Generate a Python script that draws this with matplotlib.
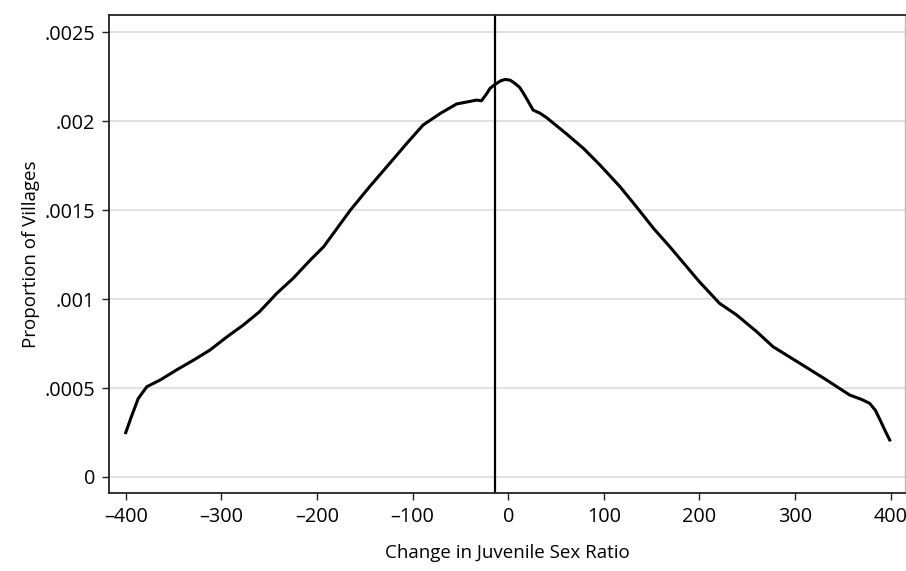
import matplotlib
matplotlib.use("Agg")
import matplotlib.pyplot as plt

plt.rcParams['font.family'] = ['Open Sans', 'DejaVu Sans']

x_vals = [-400, -394, -387, -378, -364, -347, -329, -312, -294, -277, -260, -242, -225,
          -207, -193, -165, -145, -124, -106, -89, -71, -54, -33, -28, -23, -19, -14,
          -8, -3, 2, 7, 12, 16, 21, 26, 33, 40, 61, 79, 96, 117, 134, 152, 169, 194, 200,
          221, 239, 260, 277, 305, 333, 357, 370, 378, 384, 389, 394, 399]
density = [0.000249, 0.00034, 0.000440, 0.000507, 0.000545, 0.000601, 0.000657, 0.000713,
           0.000788, 0.000854, 0.000929, 0.001032, 0.001116, 0.001219, 0.001294,
           0.0015, 0.001631, 0.001762, 0.001875, 0.001978, 0.002043, 0.002096,
           0.002118, 0.002114, 0.002150, 0.002184, 0.002205, 0.002226, 0.002234,
           0.002230, 0.002212, 0.002189, 0.002156, 0.002110,
           0.002062, 0.002045, 0.002020, 0.001928, 0.001845, 0.001753, 0.001631, 0.001519,
           0.001397, 0.001294, 0.001135, 0.001097, 0.000976, 0.00091, 0.000816,
           0.000732, 0.000639, 0.000545, 0.000461, 0.000435, 0.000414, 0.000375,
           0.00032, 0.000262, 0.000208]
cutoff = -14
x_ticks = [-400, -300, -200, -100, 0, 100, 200, 300, 400]
x_ticklabels = ['\u2013400', '\u2013300', '\u2013200', '\u2013100', '0', '100', '200', '300', '400']
y_ticks = [0, 0.0005, 0.001, 0.0015, 0.002, 0.0025]
y_ticklabels = ['0', '.0005', '.001', '.0015', '.002', '.0025']

fig = plt.figure(figsize=(9.06, 5.71), dpi=100)
ax = fig.add_axes([0.1203, 0.1366, 0.8786, 0.8371])

ax.plot(x_vals, density, color='black', lw=2.2, solid_joinstyle='round')
ax.axvline(cutoff, color='black', lw=1.6)

ax.set_xlim(-417.5, 415)
ax.set_ylim(-0.00009, 0.002596)
ax.set_xticks(x_ticks)
ax.set_xticklabels(x_ticklabels)
ax.set_yticks(y_ticks)
ax.set_yticklabels(y_ticklabels)
ax.yaxis.grid(True, color='#dddddd', lw=1.2)
ax.set_axisbelow(True)

for s in ['left', 'top', 'bottom']:
    ax.spines[s].set_color('#222222')
    ax.spines[s].set_linewidth(1.3)
ax.spines['right'].set_color('#bbbbbb')
ax.spines['right'].set_linewidth(1.0)

ax.tick_params(axis='both', direction='out', length=5, width=1, color='#222222',
               labelsize=14.3, pad=5)

ax.set_xlabel('Change in Juvenile Sex Ratio', fontsize=13.5, labelpad=12)
ax.set_ylabel('Proportion of Villages', fontsize=13.5, labelpad=3)

fig.savefig('out.png', dpi=100)
